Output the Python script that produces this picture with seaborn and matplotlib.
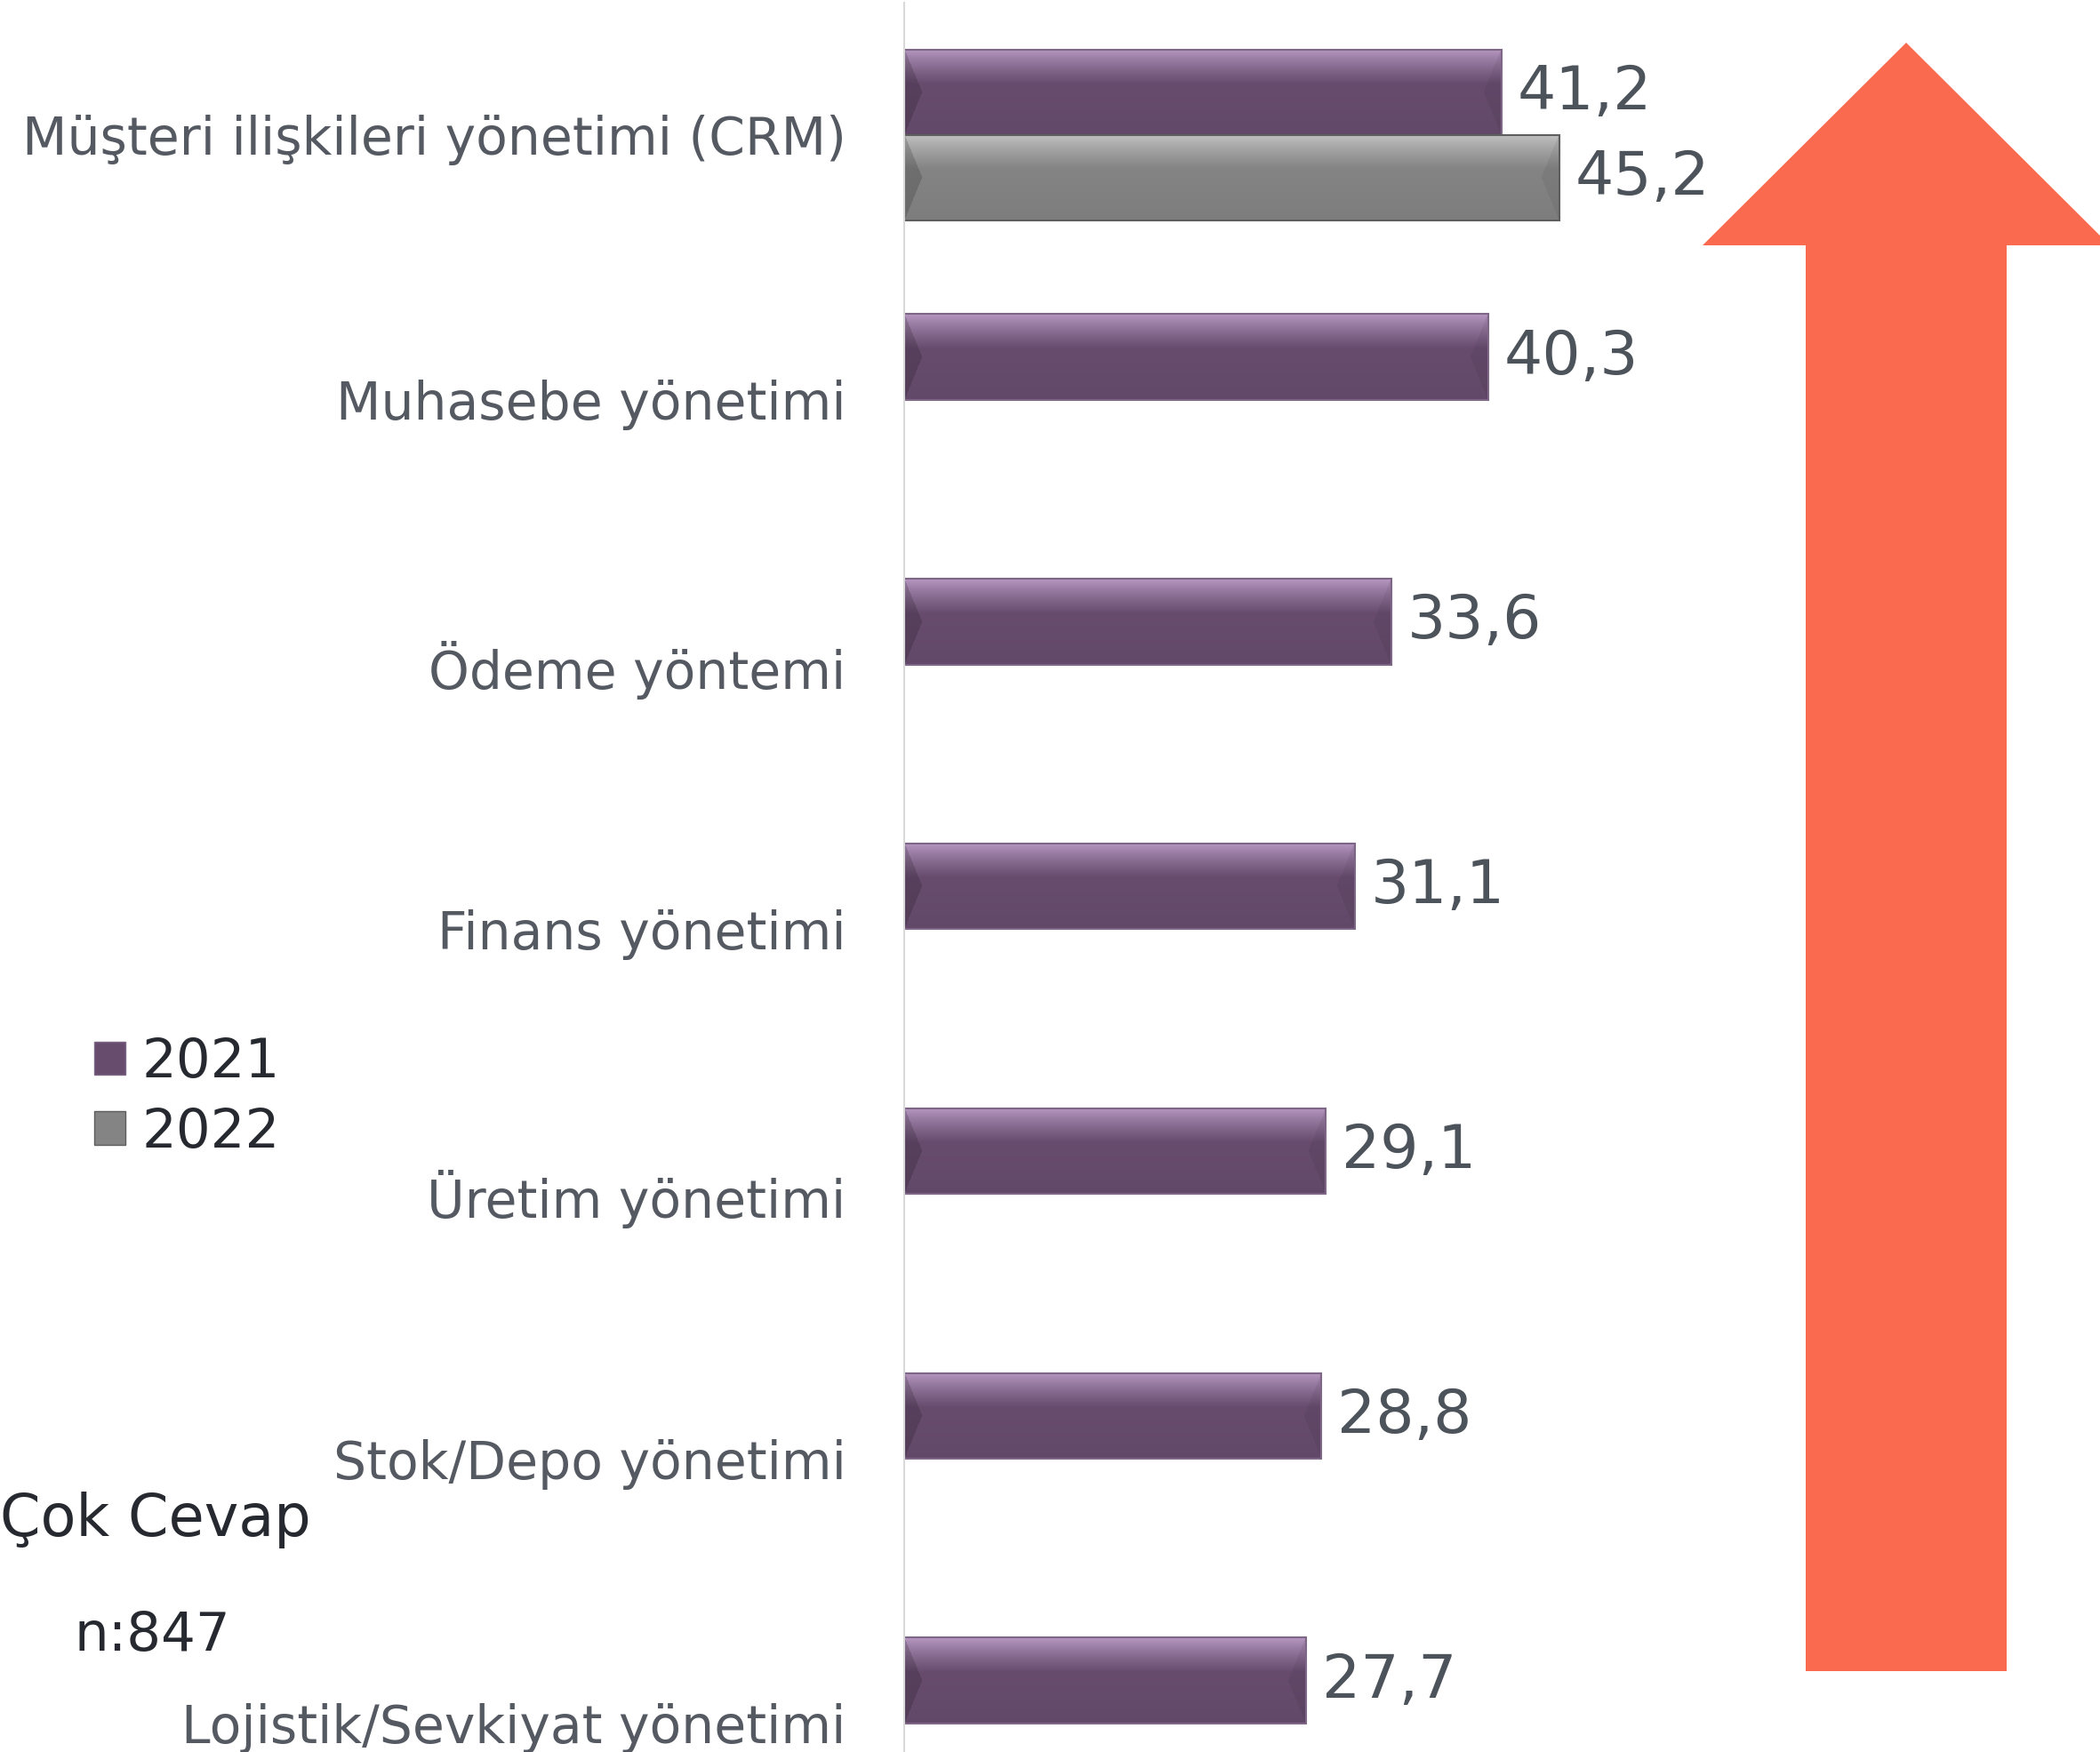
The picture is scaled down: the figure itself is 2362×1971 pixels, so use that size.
import numpy as np
import pandas as pd
import matplotlib.pyplot as plt
import seaborn as sns
from matplotlib.patches import Patch, Polygon

# Data
categories = ["Müşteri ilişkileri yönetimi (CRM)", "Muhasebe yönetimi", "Ödeme yöntemi",
              "Finans yönetimi", "Üretim yönetimi", "Stok/Depo yönetimi",
              "Lojistik/Sevkiyat yönetimi"]
years = ["2021", "2022"]
values_2021 = [41.2, 40.3, 33.6, 31.1, 29.1, 28.8, 27.7]
values_2022 = [45.2, None, None, None, None, None, None]

rows = []
for cat, v1, v2 in zip(categories, values_2021, values_2022):
    rows.append({"kategori": cat, "yil": "2021", "deger": v1})
    if v2 is not None:
        rows.append({"kategori": cat, "yil": "2022", "deger": v2})
df = pd.DataFrame(rows)

main_colors = {"2021": "#674C6E", "2022": "#848484"}
light_colors = {"2021": "#B99AC4", "2022": "#C4C4C4"}
edge_colors = {"2021": "#7E6687", "2022": "#5E5E5E"}

sns.set_theme(style="white")
plt.rcParams["font.family"] = ["DejaVu Sans"]

W, H = 2362, 1971
fig = plt.figure(figsize=(W / 100, H / 100), dpi=100)
ax = fig.add_axes([1017 / W, 0, 1 - 1017 / W, 1 - 3 / H])

sns.barplot(data=df, y="kategori", x="deger", hue="yil", order=categories,
            hue_order=years, palette=main_colors, width=0.647, orient="h",
            saturation=1, legend=False, ax=ax)

ax.set_xlim(0, (W - 1017) / 16.3)
ax.set_ylim(6.108, -0.5)
ax.set_xlabel("")
ax.set_ylabel("")
ax.set_xticks([])
ax.tick_params(axis="y", length=0, pad=47, labelsize=42, labelcolor="#555A62")
for s in ["top", "right", "bottom"]:
    ax.spines[s].set_visible(False)
ax.spines["left"].set_color("#D9D9D9")
ax.spines["left"].set_linewidth(1.5)


def to_rgb(c):
    return np.array(plt.matplotlib.colors.to_rgb(c))


# bevel-like shading for the bars
fig.canvas.draw()
for year, cont in zip(years, ax.containers):
    main = to_rgb(main_colors[year])
    light = to_rgb(light_colors[year])
    for p in cont.patches:
        x0, y0, w, h = p.get_x(), p.get_y(), p.get_width(), p.get_height()
        if not np.isfinite(w) or w == 0:
            continue
        pts = ax.transData.transform([[x0, y0], [x0 + w, y0 + h]])
        wpx = max(int(abs(pts[1, 0] - pts[0, 0])), 2)
        hpx = max(int(abs(pts[1, 1] - pts[0, 1])), 2)
        t = np.linspace(0, 1, hpx)[:, None]
        k = np.clip(t / 0.4, 0, 1) ** 0.8
        col = light * (1 - k[..., None]) + main * k[..., None]
        col = col * (1 - 0.05 * np.clip((t[..., None] - 0.4) / 0.6, 0, 1))
        img = np.repeat(col, wpx, axis=1)
        xx = np.arange(wpx)[None, :]
        yy = np.arange(hpx)[:, None]
        dv = np.minimum(yy, hpx - 1 - yy)
        b = 20
        left = xx < b * dv / (hpx / 2)
        right = (wpx - 1 - xx) < b * dv / (hpx / 2)
        img[left] = img[left] * 0.84
        img[right] = img[right] * 0.94
        ax.imshow(img, extent=(x0, x0 + w, y0 + h, y0), origin="upper",
                  aspect="auto", interpolation="bilinear", zorder=0.9)
        p.set_facecolor("none")
        p.set_edgecolor(edge_colors[year])
        p.set_linewidth(1.5)
        p.set_zorder(1)
    ax.bar_label(cont, labels=[f"{v:.1f}".replace(".", ",") for v in cont.datavalues],
                 padding=13, fontsize=49, color="#4D535A")

ax.set_xlim(0, (W - 1017) / 16.3)
ax.set_ylim(6.108, -0.5)

# legend
handles = [Patch(facecolor=main_colors[y], edgecolor=edge_colors[y], label=y) for y in years]
fig.legend(handles=handles, loc="upper left", bbox_to_anchor=(106 / W, 1 - 1166 / H),
           frameon=False, fontsize=44, handlelength=0.57, handleheight=0.57,
           handletextpad=0.3, labelspacing=0.32, borderpad=0, borderaxespad=0,
           labelcolor="#262A30")

fig.text(0, 1 - 1710 / H, "Çok Cevap", ha="left", va="center", fontsize=47, color="#262A30")
fig.text(83 / W, 1 - 1841 / H, "n:847", ha="left", va="center", fontsize=44, color="#262A30")

# big arrow on the right
arrow_px = [(2144, 48), (2373, 276), (2257, 276), (2257, 1880),
            (2031, 1880), (2031, 276), (1915, 276)]
arrow = Polygon([(x / W, 1 - y / H) for x, y in arrow_px], closed=True,
                facecolor="#F96A4F", edgecolor="none", transform=fig.transFigure)
fig.patches.append(arrow)

fig.savefig("out.png", dpi=100)
